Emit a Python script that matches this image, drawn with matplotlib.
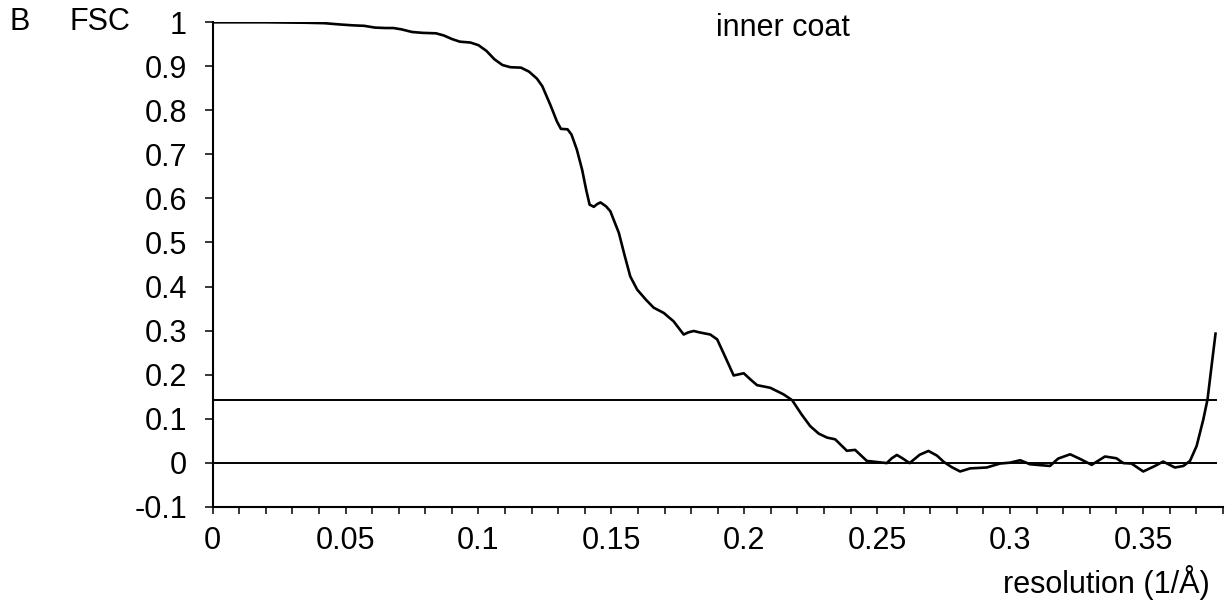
import matplotlib
matplotlib.use('Agg')
import matplotlib.pyplot as plt
from matplotlib.ticker import MultipleLocator

plt.rcParams['font.family'] = ['Liberation Sans', 'DejaVu Sans']

# FSC curve
res = [0.000, 0.020, 0.035, 0.042, 0.048, 0.053, 0.057, 0.061, 0.065, 0.068,
       0.071, 0.075, 0.079, 0.084, 0.087, 0.090, 0.093, 0.097, 0.100, 0.103,
       0.106, 0.109, 0.112, 0.116, 0.119, 0.122, 0.124, 0.127, 0.1295, 0.131,
       0.1335, 0.135, 0.137, 0.139, 0.1405, 0.1418, 0.1434, 0.1446, 0.1459, 0.148,
       0.1496, 0.1528, 0.155, 0.1571, 0.1597, 0.163, 0.1659, 0.1697, 0.1734, 0.1772,
       0.179, 0.181, 0.183, 0.1855, 0.1872, 0.1898, 0.193, 0.196, 0.1998, 0.2025,
       0.2048, 0.2098, 0.2148, 0.218, 0.2215, 0.2248, 0.228, 0.2311, 0.2342, 0.2386,
       0.2417, 0.2461, 0.2536, 0.2555, 0.2574, 0.2595, 0.2622, 0.266, 0.2693, 0.2725,
       0.275, 0.278, 0.2812, 0.285, 0.2912, 0.2962, 0.300, 0.3038, 0.3075, 0.315,
       0.3181, 0.3226, 0.3265, 0.3307, 0.3357, 0.340, 0.3426, 0.3457, 0.3501, 0.3545,
       0.3576, 0.362, 0.3652, 0.3677, 0.3702, 0.3727, 0.3743, 0.3758, 0.3773]
fsc = [1.000, 1.000, 0.999, 0.998, 0.995, 0.993, 0.992, 0.988, 0.987, 0.987,
       0.984, 0.978, 0.976, 0.975, 0.970, 0.962, 0.956, 0.954, 0.948, 0.935,
       0.916, 0.903, 0.898, 0.897, 0.888, 0.872, 0.855, 0.813, 0.775, 0.758,
       0.757, 0.745, 0.711, 0.665, 0.620, 0.586, 0.581, 0.587, 0.591, 0.582,
       0.571, 0.522, 0.470, 0.423, 0.393, 0.370, 0.352, 0.340, 0.321, 0.291,
       0.296, 0.299, 0.296, 0.293, 0.291, 0.280, 0.238, 0.198, 0.203, 0.188,
       0.176, 0.170, 0.155, 0.142, 0.110, 0.083, 0.066, 0.057, 0.053, 0.027,
       0.029, 0.004, -0.001, 0.010, 0.0175, 0.010, -0.001, 0.018, 0.0266, 0.016,
       0.002, -0.010, -0.020, -0.013, -0.011, -0.002, 0.000, 0.0055, -0.0036, -0.0075,
       0.0093, 0.019, 0.008, -0.005, 0.014, 0.010, -0.001, -0.002, -0.020, -0.0075,
       0.0025, -0.011, -0.0075, 0.004, 0.038, 0.098, 0.144, 0.219, 0.293]

thresholds = [0.143, 0.0]
line_end = 0.3773

W, H = 1227, 603
fig = plt.figure(figsize=(W / 100, H / 100), dpi=100)
ax = fig.add_axes([212.7 / W, (H - 506.7) / H, 1010 / W, 484.4 / H])

ax.plot(res, fsc, color='black', lw=1.9, solid_joinstyle='round')
for t in thresholds:
    ax.plot([0, line_end], [t, t], color='black', lw=1.4)

ax.set_xlim(0, 0.38)
ax.set_ylim(-0.1, 1.0)
for s in ['top', 'right']:
    ax.spines[s].set_visible(False)
for s in ['left', 'bottom']:
    ax.spines[s].set_linewidth(1.5)

ax.xaxis.set_minor_locator(MultipleLocator(0.01))
ax.set_xticks([0, 0.05, 0.1, 0.15, 0.2, 0.25, 0.3, 0.35])
ax.set_xticklabels(['0', '0.05', '0.1', '0.15', '0.2', '0.25', '0.3', '0.35'])
yt = [-0.1, 0, 0.1, 0.2, 0.3, 0.4, 0.5, 0.6, 0.7, 0.8, 0.9, 1.0]
ax.set_yticks(yt)
ax.set_yticklabels(['-0.1', '0', '0.1', '0.2', '0.3', '0.4', '0.5', '0.6', '0.7', '0.8', '0.9', '1'])

ax.tick_params(axis='x', which='both', direction='out', length=5, width=1.1,
               pad=9, labelsize=22)
ax.tick_params(axis='y', which='major', direction='out', length=5.5, width=1.1,
               pad=13, labelsize=22)

fig.text(10 / W, (H - 29.5) / H, 'B', fontsize=22, va='baseline', ha='left')
fig.text(70 / W, (H - 29.5) / H, 'FSC', fontsize=22, va='baseline', ha='left')
fig.text(716 / W, (H - 36) / H, 'inner coat', fontsize=22, va='baseline', ha='left')
fig.text(1210 / W, (H - 593) / H, 'resolution (1/Å)', fontsize=22,
         va='baseline', ha='right')

fig.savefig('out.png', dpi=100)
